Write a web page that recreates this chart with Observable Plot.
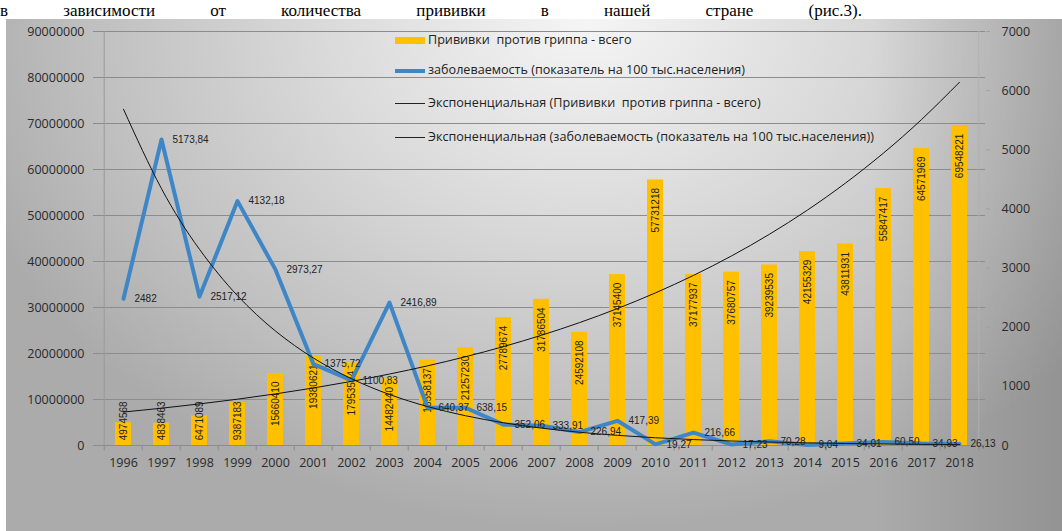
<!DOCTYPE html>
<html><head><meta charset="utf-8">
<script src="https://cdn.jsdelivr.net/npm/d3@7"></script>
<script src="https://cdn.jsdelivr.net/npm/@observablehq/plot@0.6"></script>
<style>
html,body{margin:0;padding:0;background:#fff;}
#wrap{position:relative;width:1062px;height:531px;overflow:hidden;font-family:"Open Sans",sans-serif;}
#toptext{position:absolute;left:0;top:1px;width:862px;font-family:"Liberation Serif",serif;font-size:17px;line-height:20px;white-space:nowrap;color:#000;text-align:justify;text-align-last:justify;}
#bg{position:absolute;left:6px;top:19px;right:0;bottom:0;
 background:
  linear-gradient(to right, rgba(0,0,0,0) 82%, rgba(0,0,0,0.14) 100%),
  radial-gradient(ellipse 62% 100% at 55% 0%, #f5f5f5 0%, #dadada 40%, #c0c0c0 75%, #ababab 100%);}
#chart{position:absolute;left:0;top:0;}
.leg{position:absolute;left:395px;font-size:12.6px;color:#222;white-space:nowrap;}
.leg .sw{display:inline-block;width:30px;vertical-align:middle;margin-right:3px;}
</style></head>
<body>
<div id="wrap">
  <div id="bg"></div>
  <div id="toptext">в зависимости от количества прививки в нашей стране (рис.3).</div>
  <div id="chart"></div>
  <div class="leg" style="top:31px"><span class="sw" style="height:7px;background:#ffc000"></span>Прививки&nbsp; против гриппа - всего</div>
  <div class="leg" style="top:61px"><span class="sw" style="height:4px;background:#3f86c6"></span>заболеваемость (показатель на 100 тыс.населения)</div>
  <div class="leg" style="top:94px"><span class="sw" style="height:1px;background:#222"></span>Экспоненциальная (Прививки&nbsp; против гриппа - всего)</div>
  <div class="leg" style="top:128px"><span class="sw" style="height:1px;background:#222"></span>Экспоненциальная (заболеваемость (показатель на 100 тыс.населения))</div>
</div>
<script>
const years = [1996,1997,1998,1999,2000,2001,2002,2003,2004,2005,2006,2007,2008,2009,2010,2011,2012,2013,2014,2015,2016,2017,2018];
const vaccinations = [4974568,4838463,6471089,9387183,15660410,19380621,17953594,14482440,18558137,21257230,27789674,31786504,24592108,37145400,57731218,37177937,37680757,39239535,42155329,43811931,55847417,64571969,69548221];
const incidence = [2482,5173.84,2517.12,4132.18,2973.27,1375.72,1100.83,2416.89,640.37,638.15,352.06,333.91,226.94,417.39,19.27,216.66,17.23,70.28,9.04,34.01,60.50,34.93,26.13];
const leftTicks = [0,10000000,20000000,30000000,40000000,50000000,60000000,70000000,80000000,90000000];
const rightTicks = [0,1000,2000,3000,4000,5000,6000,7000];

const K = 90000000 / 7000; // right axis -> left axis units
const STEP = (1062 - 98 - 77) / years.length;

function expFit(vals) {
  const xs = d3.range(vals.length);
  const ly = vals.map(Math.log);
  const mx = d3.mean(xs), my = d3.mean(ly);
  const b = d3.sum(xs, (x, i) => (x - mx) * (ly[i] - my)) / d3.sum(xs, x => (x - mx) ** 2);
  const a = my - b * mx;
  return xs.map(x => Math.exp(a + b * x));
}
const vacTrend = expFit(vaccinations);
const incTrend = expFit(incidence);

const rows = years.map((y, i) => ({year: y, vac: vaccinations[i], inc: incidence[i], vt: vacTrend[i], it: incTrend[i]}));
const fmt = v => Number.isInteger(v) ? String(v) : v.toFixed(2).replace(".", ",");

const chart = Plot.plot({
  width: 1062, height: 531,
  marginLeft: 98, marginRight: 77, marginTop: 31, marginBottom: 86,
  style: {background: "transparent", fontFamily: "Open Sans", fontSize: "12.5px", color: "#222", overflow: "visible"},
  x: {type: "band", domain: years, paddingInner: 0.57, paddingOuter: 0.285, axis: null, label: null},
  y: {domain: [0, 90000000], axis: null, label: null},
  marks: [
    Plot.ruleY(leftTicks, {stroke: "#8c8c8c", strokeWidth: 1}),
    Plot.ruleX([years[0]], {dx: -STEP / 2, y1: 0, y2: 90000000, stroke: "#9a9a9a"}),
    Plot.ruleX([years[years.length - 1]], {dx: STEP / 2, y1: 0, y2: 90000000, stroke: "#b0b0b0"}),
    Plot.ruleX(years, {dx: -STEP / 2, y1: 0, y2: -1200000, stroke: "#8c8c8c"}),
    Plot.ruleX([years[years.length - 1]], {dx: STEP / 2, y1: 0, y2: -1200000, stroke: "#8c8c8c"}),
    Plot.axisY(leftTicks, {anchor: "left", label: null, tickFormat: d => String(d), tickSize: 5, tickPadding: 9, stroke: "#8c8c8c", fill: "#2a2a2a", fontSize: 12.5}),
    Plot.axisY(rightTicks.map(v => v * K), {anchor: "right", label: null, tickFormat: d => String(Math.round(d / K)), tickSize: 4, tickPadding: 12, stroke: "#a0a0a0", fill: "#2a2a2a", fontSize: 12.5}),
    Plot.axisX(years, {anchor: "bottom", label: null, tickFormat: d => String(d), tickSize: 0, tickPadding: 13, fill: "#2a2a2a", fontSize: 12.5}),
    Plot.barY(rows, {x: "year", y: "vac", fill: "#ffc000"}),
    Plot.text(rows, {x: "year", y: d => Math.max(d.vac - 1750000, 9600000), text: d => String(d.vac), rotate: -90, textAnchor: "end", fontSize: 10, fill: "#222", fontFamily: "Liberation Sans"}),
    Plot.line(rows, {x: "year", y: d => d.inc * K, stroke: "#3f86c6", strokeWidth: 4}),
    Plot.line(rows, {x: "year", y: "vt", stroke: "#111", strokeWidth: 1, curve: "natural"}),
    Plot.line(rows, {x: "year", y: d => d.it * K, stroke: "#111", strokeWidth: 1, curve: "natural"}),
    Plot.text(rows, {x: "year", y: d => d.inc * K, text: d => fmt(d.inc), dx: 11, textAnchor: "start", fontSize: 10, fill: "#222", fontFamily: "Liberation Sans"})
  ]
});
document.getElementById("chart").appendChild(chart);
</script>
</body></html>
